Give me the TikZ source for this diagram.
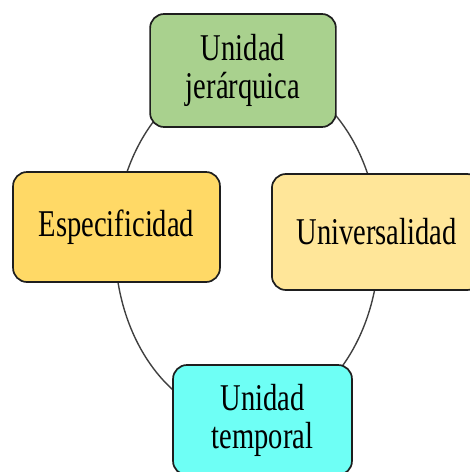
\documentclass[tikz,border=0pt]{standalone}
\usepackage{fontspec}
\setmainfont{Liberation Serif}
\usepackage{xcolor}
\usetikzlibrary{positioning}
\definecolor{jergreen}{RGB}{169, 209, 142}
\definecolor{espgold}{RGB}{255, 217, 102}
\definecolor{unipale}{RGB}{255, 230, 153}
\definecolor{temcyan}{RGB}{110, 255, 245}
\definecolor{edgegray}{RGB}{30, 30, 30}

\begin{document}
\begin{tikzpicture}[x=1.3245pt, y=-1pt, xscale=0.755, transform shape,
    phase/.style={rectangle, rounded corners=14pt, draw=edgegray, line width=1.7pt, align=center, inner sep=0pt, font=\fontsize{37.8}{38}\selectfont}]
    \clip (0,0) rectangle (470,472);

    % Cycle ring
    \draw[edgegray!85, line width=1.4pt] (247,245) ellipse [x radius=132, y radius=175];

    % Phase boxes
    \node[phase, fill=jergreen, minimum width=246pt, minimum height=113pt] (jer) at (243,70.5) {Unidad\\jerárquica};
    \node[phase, fill=espgold, minimum width=274pt, minimum height=110pt] (esp) at (116.5,227) {Especificidad};
    \node[phase, fill=unipale, minimum width=277pt, minimum height=116pt] (uni) at (376.5,232) {Universalidad};
    \node[phase, fill=temcyan, minimum width=237pt, minimum height=110pt] (tem) at (262.5,420) {Unidad\\temporal};
\end{tikzpicture}
\end{document}
